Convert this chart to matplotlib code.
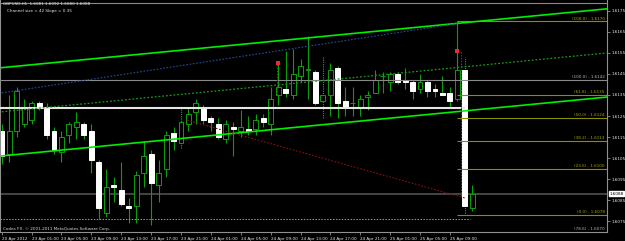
import matplotlib
matplotlib.use("Agg")
import matplotlib.pyplot as plt
import matplotlib.transforms as mtransforms
from matplotlib import font_manager

# ---------------- data ----------------
opens = [1.6118, 1.6107, 1.6118, 1.6121, 1.6123, 1.6131, 1.6129, 1.6118, 1.6108, 1.6116,
         1.6120, 1.6121, 1.6118, 1.6103, 1.6079, 1.6092, 1.6090, 1.6082, 1.6082, 1.6098,
         1.6107, 1.6092, 1.6100, 1.6117, 1.6112, 1.6121, 1.6127, 1.6129, 1.6124, 1.6121,
         1.6114, 1.6120, 1.6118, 1.6119, 1.6119, 1.6124, 1.6121, 1.6135, 1.6138, 1.6135,
         1.6144, 1.6147, 1.6146, 1.6132, 1.6135, 1.6148, 1.6132, 1.6131, 1.6129, 1.6134,
         1.6136, 1.6144, 1.6141, 1.6145, 1.6142, 1.6141, 1.6138, 1.6141, 1.6138, 1.6136,
         1.6136, 1.6133, 1.6147, 1.6081]
highs = [1.6121, 1.6135, 1.6139, 1.6133, 1.6132, 1.6132, 1.6131, 1.6120, 1.6118, 1.6122,
         1.6127, 1.6122, 1.6121, 1.6104, 1.6100, 1.6096, 1.6103, 1.6086, 1.6099, 1.6113,
         1.6109, 1.6104, 1.6118, 1.6120, 1.6129, 1.6129, 1.6133, 1.6130, 1.6125, 1.6124,
         1.6123, 1.6122, 1.6128, 1.6125, 1.6126, 1.6126, 1.6139, 1.6150, 1.6156, 1.6157,
         1.6152, 1.6163, 1.6147, 1.6153, 1.6150, 1.6149, 1.6139, 1.6139, 1.6135, 1.6137,
         1.6147, 1.6146, 1.6146, 1.6146, 1.6148, 1.6142, 1.6145, 1.6142, 1.6140, 1.6144,
         1.6139, 1.6170, 1.6153, 1.6092]
lows = [1.6102, 1.6103, 1.6115, 1.6120, 1.6121, 1.6128, 1.6114, 1.6107, 1.6103, 1.6112,
        1.6114, 1.6114, 1.6098, 1.6076, 1.6077, 1.6084, 1.6082, 1.6074, 1.6074, 1.6091,
        1.6073, 1.6084, 1.6096, 1.6109, 1.6110, 1.6118, 1.6121, 1.6121, 1.6118, 1.6114,
        1.6112, 1.6106, 1.6115, 1.6116, 1.6116, 1.6120, 1.6116, 1.6130, 1.6134, 1.6133,
        1.6141, 1.6133, 1.6130, 1.6124, 1.6125, 1.6124, 1.6125, 1.6125, 1.6125, 1.6128,
        1.6136, 1.6136, 1.6137, 1.6140, 1.6138, 1.6133, 1.6136, 1.6134, 1.6134, 1.6135,
        1.6129, 1.6132, 1.6079, 1.6080]
closes = [1.6106, 1.6118, 1.6137, 1.6129, 1.6131, 1.6129, 1.6116, 1.6109, 1.6115, 1.6121,
          1.6122, 1.6116, 1.6104, 1.6081, 1.6091, 1.6091, 1.6083, 1.6081, 1.6097, 1.6106,
          1.6093, 1.6098, 1.6116, 1.6113, 1.6122, 1.6126, 1.6131, 1.6123, 1.6122, 1.6115,
          1.6121, 1.6119, 1.6120, 1.6118, 1.6123, 1.6122, 1.6133, 1.6139, 1.6136, 1.6145,
          1.6149, 1.6147, 1.6131, 1.6135, 1.6147, 1.6131, 1.6129, 1.6131, 1.6133, 1.6135,
          1.6142, 1.6144, 1.6145, 1.6141, 1.6141, 1.6137, 1.6141, 1.6137, 1.6137, 1.6135,
          1.6132, 1.6147, 1.6082, 1.6088]

dotted_wick_bars = [24, 43, 62]

time_label_bars = [0, 4, 8, 12, 16, 20, 24, 28, 32, 36, 40, 44, 48, 52, 56, 60]
time_labels = ["20 Apr 2012", "23 Apr 01:00", "23 Apr 05:00", "23 Apr 09:00",
               "23 Apr 13:00", "23 Apr 17:00", "23 Apr 21:00", "24 Apr 01:00",
               "24 Apr 05:00", "24 Apr 09:00", "24 Apr 13:00", "24 Apr 17:00",
               "24 Apr 21:00", "25 Apr 01:00", "25 Apr 05:00", "25 Apr 09:00"]
price_ticks = [1.6075, 1.6085, 1.6095, 1.6105, 1.6115, 1.6125, 1.6135, 1.6145,
               1.6155, 1.6165, 1.6175]
price_tick_labels = ["1.6075", "1.6085", "1.6095", "1.6105", "1.6115", "1.6125",
                     "1.6135", "1.6145", "1.6155", "1.6165", "1.6175"]

# regression channel (bar, price) anchors
channel_bars = [0, 81]
channel_upper = [1.6148, 1.6176]
channel_middle = [1.6127, 1.6155]
channel_lower = [1.6106, 1.6134]
blue_trend_bars = [0, 61]
blue_trend_prices = [1.6136, 1.6169]
red_trend_bars = [24.8, 62]
red_trend_prices = [1.6123, 1.6086]

# fibonacci levels
fib_levels = [1.6170, 1.6135, 1.6124, 1.6113, 1.6100, 1.6078]
fib_labels = ["(100.0) - 1.6170", "(61.8) - 1.6135", "(50.0) - 1.6124",
              "(38.2) - 1.6113", "(23.6) - 1.6100", "(0.0) - 1.6078"]
fib_start_bar = 61
fib2_level = 1.6142
fib2_label = "(100.0) - 1.6142"
fib2_bottom_label = "(78.6) - 1.6070"
top_gray_level = 1.6179
white_level = 1.6129
white_level_end_bar = 62
dotted_gray_level = 1.6076
dotted_gray_end_bar = 62.7
bid_price = 1.6088

marker_bars = [37, 61]
marker_prices = [1.6150, 1.6156]
red_vline_bars = [36.9, 61.5]
red_vline_tops = [1.6150, 1.6156]
red_vline_bottoms = [1.6135, 1.6087]

header1 = "GBPUSD,H1  1.6081 1.6092 1.6080 1.6088"
header2 = "Channel size = 42 Slope = 0.35"
copyright_text = "Codex FX. \u00a9 2001-2011 MetaQuotes Software Corp."

# ---------------- fonts ----------------
names = {f.name for f in font_manager.fontManager.ttflist}
fam = ["Liberation Sans Narrow", "DejaVu Sans"] if "Liberation Sans Narrow" in names \
    else ["DejaVu Sans"]
plt.rcParams["font.family"] = fam
FS = 3.7 if fam[0] == "Liberation Sans Narrow" else 3.0

# ---------------- figure ----------------
fig = plt.figure(figsize=(6.25, 2.41), dpi=100, facecolor="black")
ax = fig.add_axes([0, 9 / 241, 607 / 625, 232 / 241], facecolor="black")
ax.set_xlim(-0.23, 81.03)
ax.set_ylim(1.60698, 1.61802)

wick_color = "#0aa00a"
n = len(opens)
for i in range(n):
    o, h, l, c = opens[i], highs[i], lows[i], closes[i]
    if i in dotted_wick_bars:
        ax.vlines(i, l, h, color="#3a8a8a", lw=0.8, linestyles=(0, (1, 1)), zorder=2)
    else:
        ax.vlines(i, l, h, color=wick_color, lw=0.8, zorder=2)
    bull = c >= o
    face = "black" if bull else "white"
    edge = wick_color if bull else "white"
    lo = min(o, c)
    hgt = max(abs(c - o), 0.00002)
    ax.bar(i, hgt, bottom=lo, width=0.66, color=face, edgecolor=edge, lw=0.7, zorder=2.5)

# horizontal objects
ax.axhline(top_gray_level, color="#8a8a8a", lw=0.8, zorder=3)
ax.axhline(fib2_level, color="#8a8a8a", lw=0.8, zorder=3)
ax.axhline(bid_price, color="#4a4a4a", lw=1.3, zorder=1.5)
ax.hlines(white_level, -0.23, white_level_end_bar, color="#e6e6e6", lw=1.5, zorder=3)
ax.hlines(dotted_gray_level, -0.23, dotted_gray_end_bar, color="#9a9a9a", lw=0.7,
          linestyles=(0, (1.5, 1.5)), zorder=3)

for lvl in fib_levels:
    ax.hlines(lvl, fib_start_bar, 81.03, color="#8c8c00", lw=0.8, zorder=3)
for lvl, lab in zip(fib_levels, fib_labels):
    ax.text(80.7, lvl + 0.00004, lab, color="#a8a800", fontsize=FS, ha="right",
            va="bottom", zorder=4)
ax.text(80.7, fib2_level + 0.00004, fib2_label, color="#b8b8b8", fontsize=FS,
        ha="right", va="bottom", zorder=4)
ax.text(80.7, 1.60702, fib2_bottom_label, color="#b8b8b8", fontsize=FS,
        ha="right", va="bottom", zorder=4)

# channel and trend lines
ax.plot(channel_bars, channel_upper, color="#00ee00", lw=1.2, zorder=3)
ax.plot(channel_bars, channel_lower, color="#00ee00", lw=1.2, zorder=3)
ax.plot(channel_bars, channel_middle, color="#1a9a1a", lw=0.9, ls=(0, (1.5, 1.5)), zorder=3)
ax.plot(blue_trend_bars, blue_trend_prices, color="#2a4a9a", lw=0.8, ls=(0, (1.5, 1.5)), zorder=3)
ax.plot(red_trend_bars, red_trend_prices, color="#8a1010", lw=0.8, ls=(0, (1.5, 1.5)), zorder=3)

for b, t, bt in zip(red_vline_bars, red_vline_tops, red_vline_bottoms):
    ax.vlines(b, bt, t, color="#b02020", lw=0.7, linestyles=(0, (1.5, 1.5)), zorder=3)
ax.scatter(marker_bars, marker_prices, s=5, marker="s", color="#e03030", zorder=4, lw=0)

# axes styling
ax.spines["top"].set_visible(False)
for s in ["left", "right", "bottom"]:
    ax.spines[s].set_color("#909090")
    ax.spines[s].set_linewidth(0.8)

ax.yaxis.tick_right()
ax.set_yticks(price_ticks)
ax.set_yticklabels(price_tick_labels)
ax.tick_params(axis="y", colors="#909090", labelcolor="#e8e8e8", labelsize=FS,
               length=2, width=0.6, pad=1)
ax.set_xticks(time_label_bars)
ax.set_xticklabels(time_labels, ha="left")
ax.tick_params(axis="x", colors="#909090", labelcolor="#e8e8e8", labelsize=FS,
               length=2.5, width=0.6, pad=1)

blend = mtransforms.blended_transform_factory(ax.transAxes, ax.transData)
ax.text(1.004, bid_price, "1.6088", transform=blend, color="black", fontsize=FS,
        ha="left", va="center", zorder=5,
        bbox=dict(facecolor="white", edgecolor="white", pad=0.4), clip_on=False)

ax.text(0.005, 0.99, header1, transform=ax.transAxes, color="#e8e8e8", fontsize=FS,
        ha="left", va="top", zorder=5)
ax.text(0.012, 0.96, header2, transform=ax.transAxes, color="#e8e8e8", fontsize=FS,
        ha="left", va="top", zorder=5)
ax.text(0.005, 0.005, copyright_text, transform=ax.transAxes, color="#d8d8d8",
        fontsize=FS, ha="left", va="bottom", zorder=5)

fig.savefig("out.png", dpi=100, facecolor="black")
